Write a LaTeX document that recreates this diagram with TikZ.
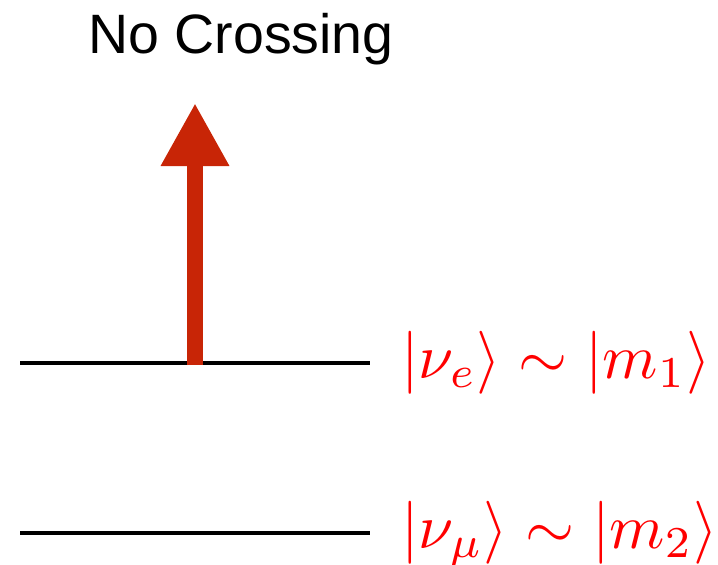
\RequirePackage{fix-cm}
\documentclass[tikz,border=0pt]{standalone}
\usepackage[no-math]{fontspec}
\setmainfont{Liberation Sans}
\usepackage{tikz}
\usetikzlibrary{
  arrows.meta,
  positioning,
}
\definecolor{levelred}{RGB}{255,0,0}
\definecolor{arrowred}{RGB}{200,37,6}

\begin{document}
\begin{tikzpicture}[
  x=1pt, y=-1pt,
  level/.style={
    draw=black, line width=4pt,
  },
  statelabel/.style={
    anchor=base west, inner sep=0pt, text=levelred,
    font=\fontsize{10}{12}\selectfont, scale=6.3,
  },
  title/.style={
    anchor=base, inner sep=0pt, text=black,
    font=\fontsize{55.5}{62}\selectfont,
  },
  pushup/.style={
    -{Triangle[length=63pt,width=64pt]}, line width=16pt, color=arrowred,
  },
]
  \useasboundingbox (0,0) rectangle (718,565);

  % --- energy levels ---
  \coordinate (e-upL) at (20,363);
  \coordinate (e-upR) at (370,363);
  \coordinate (e-loL) at (20,533);
  \coordinate (e-loR) at (370,533);
  \draw[level] (e-upL) -- (e-upR);
  \draw[level] (e-loL) -- (e-loR);

  % --- state labels ---
  \node[statelabel] (s-up) at (400,378.5) {$|\nu_e\rangle \sim |m_1\rangle$};
  \node[statelabel] (s-lo) at (400,548) {$|\nu_\mu\rangle \sim |m_2\rangle$};

  % --- arrow ---
  \coordinate (a-base) at (195,365);
  \coordinate (a-tip)  at (195,103);
  \draw[pushup] (a-base) -- (a-tip);

  % Title
  \node[title] (t-main) at (241,53) {No Crossing};
\end{tikzpicture}
\end{document}
